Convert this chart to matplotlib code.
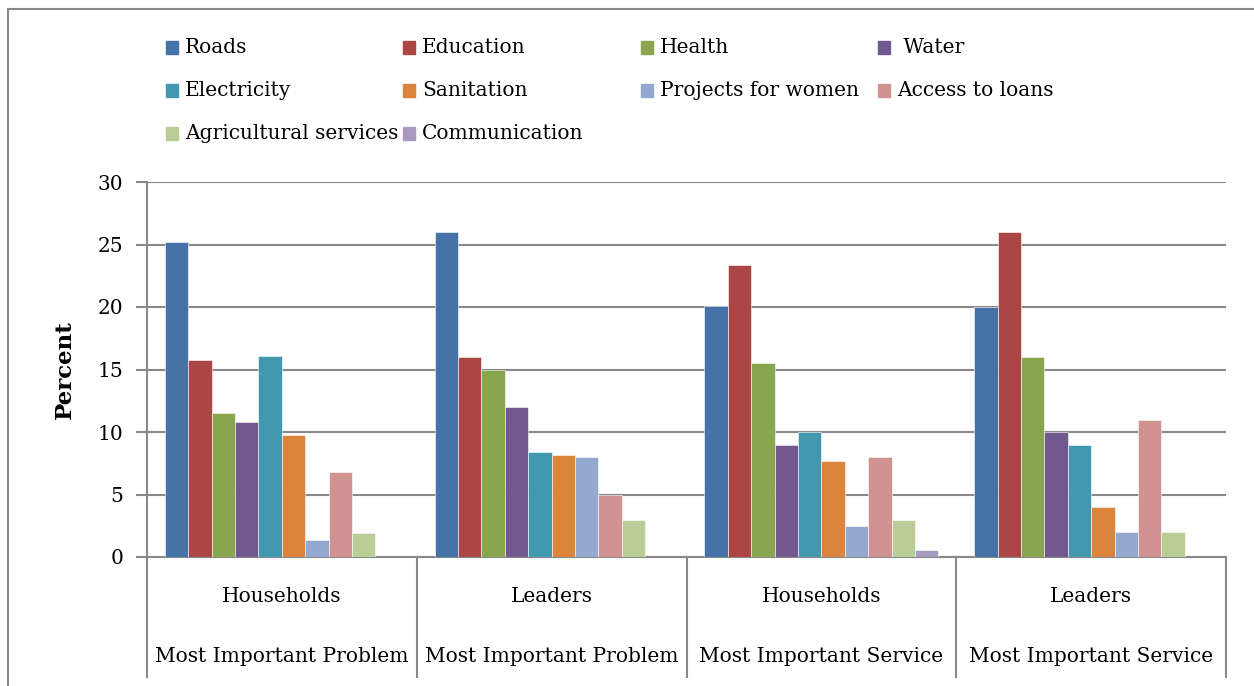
import numpy as np
import matplotlib
matplotlib.use("Agg")
import matplotlib.pyplot as plt
from matplotlib.patches import Rectangle
import matplotlib.transforms as mtrans

groups = ['Households', 'Leaders', 'Households', 'Leaders']
topics = ['Most Important Problem', 'Most Important Problem',
          'Most Important Service', 'Most Important Service']
series = ['Roads', 'Education', 'Health', ' Water', 'Electricity', 'Sanitation',
          'Projects for women', 'Access to loans', 'Agricultural services', 'Communication']
roads = [25.2, 26.0, 20.1, 20.0]
education = [15.8, 16.0, 23.4, 26.0]
health = [11.5, 15.0, 15.5, 16.0]
water = [10.8, 12.0, 9.0, 10.0]
electricity = [16.1, 8.4, 10.0, 9.0]
sanitation = [9.8, 8.2, 7.7, 4.0]
projects_women = [1.4, 8.0, 2.5, 2.0]
access_loans = [6.8, 5.0, 8.0, 11.0]
agricultural = [1.9, 3.0, 3.0, 2.0]
communication = [0, 0, 0.6, 0]
values = [roads, education, health, water, electricity, sanitation,
          projects_women, access_loans, agricultural, communication]
colors = ['#4572A7', '#AA4643', '#89A54E', '#71588F', '#4198AF',
          '#DB843D', '#93A9CF', '#D19392', '#B9CD96', '#A99BBD']

W, H = 1254, 686
grey = '#898989'
plt.rcParams['font.family'] = 'DejaVu Serif'

fig = plt.figure(figsize=(W / 100, H / 100), dpi=100)
ax = fig.add_axes([147 / W, 1 - 557 / H, (1226 - 147) / W, (557 - 182) / H])

x = np.arange(len(groups))
w = 1 / 11.54
for i, (vals, c) in enumerate(zip(values, colors)):
    ax.bar(x + (i - 4.5) * w, vals, w, color=c, edgecolor='white', linewidth=0.4, zorder=3)

ax.set_xlim(-0.5, 3.5)
ax.set_ylim(0, 30)
ax.set_yticks(range(0, 31, 5))
ax.yaxis.grid(True, color=grey, lw=1.5, zorder=0)
ax.set_xticks([])
for s in ['top', 'right']:
    ax.spines[s].set_visible(False)
for s in ['left', 'bottom']:
    ax.spines[s].set_color(grey)
    ax.spines[s].set_linewidth(1.5)
ax.tick_params(axis='y', direction='out', length=8, width=1.5, color=grey,
               labelsize=14.5, pad=9)
ax.set_ylabel('Percent', fontsize=16.5, fontweight='bold', labelpad=16)

# hierarchical category axis
bot = -(677 - 557) / (557 - 182)
trans = mtrans.blended_transform_factory(ax.transData, ax.transAxes)
for xs in np.arange(-0.5, 4, 1):
    ax.plot([xs, xs], [0, bot], transform=trans, color=grey, lw=1.5, clip_on=False)
for xi, g, t in zip(x, groups, topics):
    ax.text(xi, -39 / 375, g, transform=trans, ha='center', va='center', fontsize=14.5)
    ax.text(xi, -100 / 375, t, transform=trans, ha='center', va='center', fontsize=14.5)

# legend, row-wise in four fixed columns
col_x = [166, 403, 641, 878]
row_y = [47.5, 90.5, 133.5]
for i, (name, c) in enumerate(zip(series, colors)):
    r, k = divmod(i, 4)
    px, py = col_x[k], row_y[r]
    fig.add_artist(Rectangle((px / W, 1 - (py + 6) / H), 12 / W, 12 / H,
                             transform=fig.transFigure, color=c))
    fig.text((px + 19) / W, 1 - py / H, name, ha='left', va='center', fontsize=14.5)

# chart frame
fig.add_artist(Rectangle((8 / W, -0.1), 2, 1.1 - 9 / H, transform=fig.transFigure,
                         fill=False, edgecolor=grey, lw=1.5, clip_on=False))

plt.savefig('out.png', dpi=100)
plt.close()
